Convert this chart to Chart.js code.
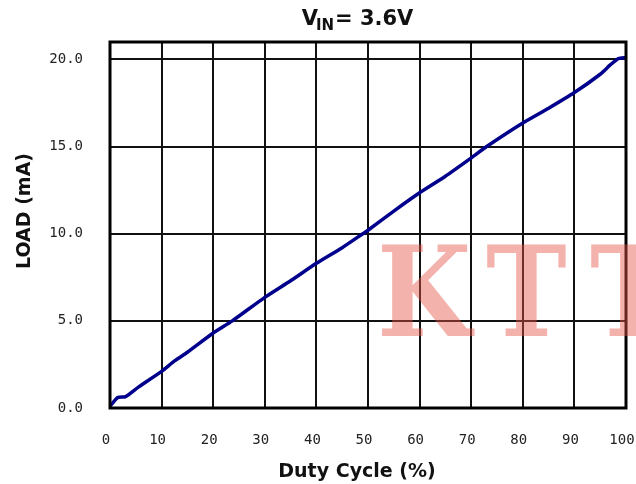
<!DOCTYPE html>
<html>
<head>
<meta charset="utf-8">
<title>Load vs Duty Cycle</title>
<script src="https://cdn.jsdelivr.net/npm/chart.js@4/dist/chart.umd.min.js"></script>
<style>
  html, body { margin: 0; padding: 0; background: #fff; }
  #wrap { width: 636px; height: 484px; position: relative; }
</style>
</head>
<body>
<div id="wrap"><canvas id="chart1" width="636" height="484"></canvas></div>
<script>
// data (duty cycle %, load mA)
const dutyCycle = [0, 1.5, 3, 5.5, 10, 12.5, 15, 20, 23.7, 30, 35, 40, 45, 49, 50, 55, 60, 65, 70, 73, 80, 85, 90, 95, 97, 98.5, 100];
const loadMA    = [0.1, 0.6, 0.65, 1.2, 2.1, 2.7, 3.2, 4.3, 5.0, 6.35, 7.3, 8.3, 9.2, 10.0, 10.2, 11.3, 12.35, 13.3, 14.35, 15.0, 16.35, 17.2, 18.1, 19.15, 19.7, 20.05, 20.1];

const xTicks = [0, 10, 20, 30, 40, 50, 60, 70, 80, 90, 100];
const yTicks = [0, 5, 10, 15, 20];

const titleMain = "V";
const titleSub = "IN";
const titleRest = "= 3.6V";
const xTitle = "Duty Cycle (%)";
const yTitle = "LOAD (mA)";
const watermark = ["K", "T", "T"];

const el = (id) => document.getElementById(id);

// frame, titles and the watermark
const decor = {
  id: "decor",
  afterDatasetsDraw(chart){
    const { ctx, chartArea: a } = chart;
    ctx.save();
    ctx.strokeStyle = "#000";
    ctx.lineWidth = 3;
    ctx.strokeRect(a.left, a.top, a.right - a.left, a.bottom - a.top);
    ctx.restore();
  },
  afterDraw(chart){
    const { ctx } = chart;
    ctx.save();
    ctx.fillStyle = "#111";
    ctx.textBaseline = "alphabetic";

    // title with subscript
    const big = "bold 21px 'DejaVu Sans'";
    const small = "bold 15px 'DejaVu Sans'";
    ctx.font = big;
    const w1 = ctx.measureText(titleMain).width;
    const w3 = ctx.measureText(titleRest).width;
    ctx.font = small;
    const w2 = ctx.measureText(titleSub).width;
    let x = 358 - (w1 + w2 + w3) / 2;
    ctx.font = big;
    ctx.fillText(titleMain, x, 25);
    x += w1 - 2;
    ctx.font = small;
    ctx.fillText(titleSub, x, 30);
    x += w2 + 1;
    ctx.font = big;
    ctx.fillText(titleRest, x, 25);

    // axis titles
    ctx.font = "bold 19px 'DejaVu Sans'";
    ctx.textAlign = "center";
    ctx.textBaseline = "middle";
    ctx.fillText(xTitle, 357, 472);
    ctx.translate(25, 211);
    ctx.rotate(-Math.PI / 2);
    ctx.fillText(yTitle, 0, 0);
    ctx.restore();

    // watermark
    ctx.save();
    ctx.font = "bold 126px 'DejaVu Serif'";
    ctx.fillStyle = "rgba(230,85,70,0.45)";
    ctx.textBaseline = "alphabetic";
    const wx = [377, 486, 590];
    watermark.forEach((ch, i) => {
      ctx.save();
      ctx.translate(wx[i], 336);
      ctx.scale(0.86, 1);
      ctx.fillText(ch, 0, 0);
      ctx.restore();
    });
    ctx.restore();
  }
};

const gridStyle = { color: "#111", lineWidth: 2, drawTicks: false };
const tickFont = { family: "'DejaVu Sans Mono'", size: 14 };

new Chart(el("chart1"), {
  type: "line",
  data: {
    datasets: [{
      data: dutyCycle.map((d, i) => ({ x: d, y: loadMA[i] })),
      borderColor: "#00008c",
      borderWidth: 3.5,
      pointRadius: 0,
      tension: 0.2,
      fill: false
    }]
  },
  options: {
    responsive: false,
    animation: false,
    parsing: false,
    layout: { padding: { top: 42, right: 10, left: 0, bottom: 0 } },
    plugins: { legend: { display: false }, tooltip: { enabled: false } },
    scales: {
      x: {
        type: "linear", min: 0, max: 100,
        afterBuildTicks: (s) => { s.ticks = xTicks.map(v => ({ value: v })); },
        afterFit: (s) => { s.height = 76; s.paddingLeft = 0; s.paddingRight = 0; },
        grid: gridStyle,
        border: { display: false },
        ticks: { color: "#222", font: tickFont, padding: 24, labelOffset: -4, maxRotation: 0, autoSkip: false }
      },
      y: {
        type: "linear", min: 0, max: 21,
        afterBuildTicks: (s) => { s.ticks = yTicks.map(v => ({ value: v })); },
        afterFit: (s) => { s.width = 110; s.paddingTop = 0; s.paddingBottom = 0; },
        grid: gridStyle,
        border: { display: false },
        ticks: { color: "#222", font: tickFont, padding: 27, callback: (v) => Number(v).toFixed(1) }
      }
    }
  },
  plugins: [decor]
});
</script>
</body>
</html>
